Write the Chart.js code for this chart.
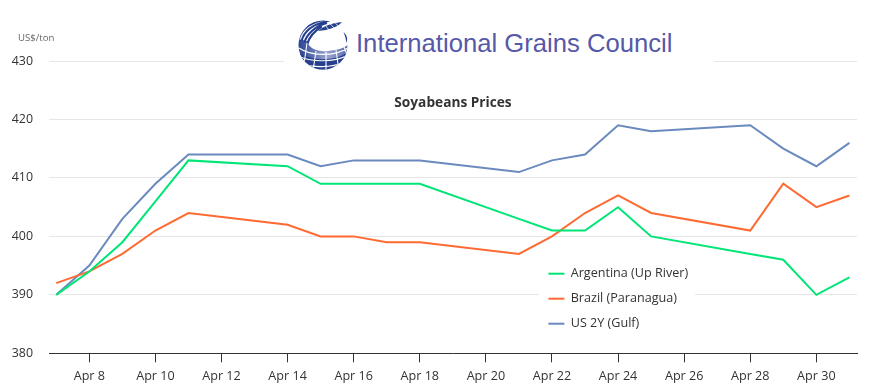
<!DOCTYPE html>
<html><head><meta charset="utf-8">
<script src="https://cdn.jsdelivr.net/npm/chart.js@4"></script>
<style>
html,body{margin:0;padding:0;background:#fff;}
#wrap{position:relative;width:876px;height:391px;overflow:hidden;}
canvas{position:absolute;left:0;top:0;}
#logo{position:absolute;left:284px;top:14px;width:430px;height:52px;background:#fff;}
#logo span{position:absolute;left:72px;top:15px;font:25.65px "Liberation Sans",sans-serif;color:#5559a8;white-space:nowrap;}
#logo svg{position:absolute;left:14px;top:5px;overflow:visible;}
</style></head>
<body><div id="wrap"><canvas id="c" width="876" height="391"></canvas>
<div id="logo">
<svg width="52" height="52" viewBox="0 0 52 52">
<defs>
<clipPath id="g"><circle cx="25" cy="26" r="24.5"/></clipPath>
<linearGradient id="f" x1="0" y1="0.3" x2="1" y2="0.2"><stop offset="0" stop-color="#26408f"/><stop offset="0.55" stop-color="#9aa3d0"/><stop offset="1" stop-color="#5a6cb0"/></linearGradient>
</defs>
<g clip-path="url(#g)">
<path d="M0 20L9 22C11 30 20 33 30 32C38 31 44 30 50 26L50 52L0 52Z" fill="url(#f)"/>
<path d="M0 33C12 42 36 43 50 33L50 52L0 52Z" fill="#26408f"/>
<g fill="none" stroke="#26408f" stroke-width="2.1">
<path d="M1 20C3 10 14 2 30 0M3.6 22C6 12 16 4.5 32 1.5M6.3 23.5C9 15 17 7 29 4M9 26C11 18 17 11.5 24 7.5"/>
</g>
<g stroke="#fff" stroke-width="1.1" fill="none">
<path d="M0 37C12 43 36 44 50 36M3 44C14 49 34 49 46 43M1 29C12 37 36 38 50 29M9 24L5 52M18 32L15 52M28 33L28 52M38 31L41 52M46 28L50 38"/>
</g>
</g>
<path d="M20 12C27 6 35 4 44 3C40 8 31 11 20 12Z" fill="#26408f"/>
<g stroke="#fff" stroke-width="0.8"><path d="M27 6L31 11M32 4.5L36 9M37 3.5L40 7"/></g>
<path d="M45.5 13C49 16 50 20 48.5 24C48 20 47 17 45.5 13Z" fill="#26408f"/>
</svg>
<span>International Grains Council</span>
</div></div>
<script>
const days = [7,8,9,10,11,14,15,16,17,18,21,22,23,24,25,28,29,30,31];
const argentina = [390,394,399,406,413,412,409,409,409,409,403,401,401,405,400,397,396,390,393];
const brazil = [392,394,397,401,404,402,400,400,399,399,397,400,404,407,404,401,409,405,407];
const us2y = [390,395,403,409,414,414,412,413,413,413,411,413,414,419,418,419,415,412,416];
const tickDays = [8,10,12,14,16,18,20,22,24,26,28,30];
const seriesNames = ['Argentina (Up River)','Brazil (Paranagua)','US 2Y (Gulf)'];
const pts = v => v.map((y,i)=>({x:days[i],y}));
const ds = (label,v,color)=>({label,data:pts(v),borderColor:color,backgroundColor:color,borderWidth:2,pointRadius:0,tension:0});
const FONT = '"Open Sans",sans-serif';
const place = {
  id:'place',
  afterLayout(chart){
    const a = chart.chartArea, t = chart.titleBlock, l = chart.legend;
    t.left = a.left; t.right = a.right; t.top = 94.5; t.bottom = 111;
    l.left = 536; l.right = 700; l.top = 255; l.bottom = 345;
    if(!l._wrapped){
      const d = l.draw;
      l.draw = function(){
        const c = this.ctx; c.save(); c.fillStyle='#fff'; c.fillRect(539,264,156,72); c.restore();
        d.call(this);
      };
      l._wrapped = true;
    }
  },
  afterDraw(chart){
    const c = chart.ctx; c.save();
    c.font = '9.6px '+FONT; c.fillStyle='#666'; c.textAlign='left'; c.textBaseline='middle';
    c.fillText('US$/ton',18,38); c.restore();
  }
};
new Chart(document.getElementById('c'),{
  type:'line',
  data:{datasets:[ds(seriesNames[0],argentina,'#00e676'),ds(seriesNames[1],brazil,'#ff6a33'),ds(seriesNames[2],us2y,'#6a8abf')]},
  plugins:[place],
  options:{
    responsive:false,animation:false,
    layout:{padding:{top:44.5,right:19,bottom:0,left:0}},
    plugins:{
      title:{display:true,text:'Soyabeans Prices',color:'#333',font:{family:FONT,size:13.7,weight:'bold'},padding:{top:0,bottom:0.06}},
      legend:{position:'chartArea',align:'start',labels:{usePointStyle:true,pointStyle:'line',pointStyleWidth:16,color:'#333',font:{family:FONT,size:12.6},padding:12.4}},
      tooltip:{enabled:false}
    },
    scales:{
      x:{type:'linear',min:6.78,max:31.23,
        afterBuildTicks(s){s.ticks=tickDays.map(value=>({value}));},
        afterFit(s){s.height=37.7;},
        border:{color:'#333',width:1},
        grid:{drawOnChartArea:false,drawTicks:true,tickLength:9,color:'#333'},
        ticks:{autoSkip:false,maxRotation:0,padding:7,color:'#333',font:{family:FONT,size:12.6},callback:v=>'Apr '+v}},
      y:{min:380,max:430,
        afterFit(s){s.width=49;},
        border:{display:false},
        grid:{color:'#e6e6e6',drawTicks:false},
        ticks:{stepSize:10,padding:16,color:'#333',font:{family:FONT,size:12.4}}}
    }
  }
});
</script></body></html>
